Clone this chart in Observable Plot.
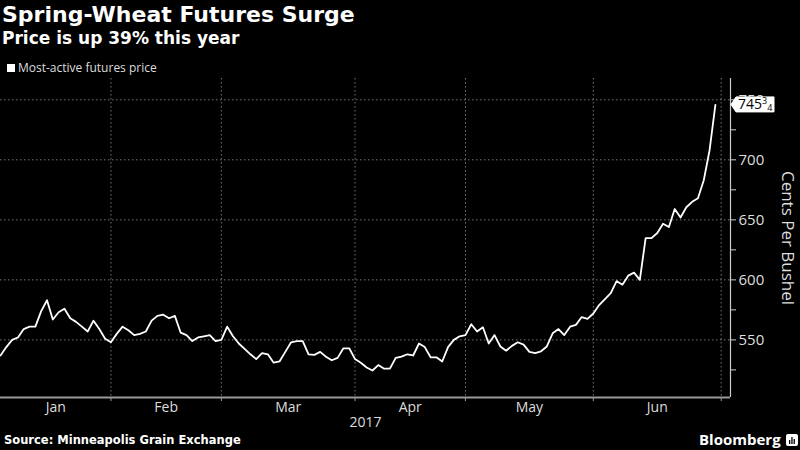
<!DOCTYPE html>
<html><head><meta charset="utf-8">
<script src="https://cdn.jsdelivr.net/npm/d3@7"></script>
<script src="https://cdn.jsdelivr.net/npm/@observablehq/plot@0.6"></script>
<style>
body{margin:0;background:#000;}
#wrap{position:relative;width:800px;height:450px;background:#000;overflow:hidden;color:#fff;font-family:"DejaVu Sans",sans-serif;}
#title{position:absolute;left:2px;top:2px;font-size:22px;line-height:26px;font-weight:bold;white-space:nowrap;}
#subtitle{position:absolute;left:2px;top:28px;font-size:17px;line-height:20px;font-weight:bold;white-space:nowrap;}
#legend{position:absolute;left:7px;top:60px;font-family:"Open Sans",sans-serif;font-size:12px;line-height:16px;color:#ddd;white-space:nowrap;z-index:2;}
#legend span.sw{display:inline-block;width:8px;height:8px;background:#fff;margin-right:3px;vertical-align:0px;}
#chart{position:absolute;left:0;top:70px;z-index:1;}
#source{position:absolute;left:4px;top:433px;font-size:11.5px;line-height:14px;font-weight:bold;white-space:nowrap;}
#brand{position:absolute;left:699px;top:429px;font-family:"Open Sans",sans-serif;font-size:15px;line-height:20px;font-weight:bold;white-space:nowrap;}
#icon{position:absolute;left:786px;top:434px;}
</style></head>
<body><div id="wrap">
<div id="title">Spring-Wheat Futures Surge</div>
<div id="subtitle">Price is up 39% this year</div>
<div id="legend"><span class="sw"></span>Most-active futures price</div>
<div id="chart"></div>
<div id="source">Source: Minneapolis Grain Exchange</div>
<div id="brand">Bloomberg</div>
<svg id="icon" width="12" height="12" viewBox="0 0 12 12"><rect width="12" height="12" rx="2" fill="#fff"/><rect x="3" y="6" width="1.3" height="4" fill="#000"/><rect x="5.3" y="3" width="1.3" height="7" fill="#000"/><rect x="7.6" y="5" width="1.3" height="5" fill="#000"/></svg>
</div>
<script>
// Month names and number of trading days shown for each month (Jan 4 – Jun 30, 2017)
const months = ["Jan", "Feb", "Mar", "Apr", "May", "Jun"];
const tradingDays = [19, 19, 23, 19, 22, 22];
const yearLabel = "2017";
const yTicks = [550, 600, 650, 700, 750];
const yMinorTicks = [525, 575, 625, 675, 725];
const yLabel = "Cents Per Bushel";
const lastTag = ["745", "3", "4"];
// Most-active spring-wheat futures price, cents per bushel, one value per trading day
const prices = [
  537, 544, 550, 552, 559, 561, 561, 574, 583, 567,
  573, 576, 568, 565, 561, 557, 566, 559, 551, 548,
  555, 561, 558, 554, 555, 557, 566, 570, 571, 568,
  570, 556, 554, 549, 552, 553, 554, 549, 550, 561,
  553, 547, 542.5, 538, 534, 539, 538, 531, 532, 540,
  548, 549, 549, 538, 537.5, 540, 536, 533, 535, 543,
  543, 534, 531, 527, 524.5, 529, 526, 526, 535, 536,
  538, 537, 547, 544, 535.5, 535.5, 532, 544, 550, 553,
  554, 563, 557, 560.5, 547, 554, 544.5, 541, 545, 548,
  546, 540, 539, 540.5, 544.5, 555.5, 559, 554, 561, 562.5,
  569, 567.5, 572, 579, 584, 589, 599, 596, 603.5, 606,
  600, 634.75, 634.75, 639, 646.75, 644, 659, 652, 660.5, 665,
  668, 683, 708, 745.75
];

const starts = [0];
tradingDays.forEach(d => starts.push(starts[starts.length - 1] + d));
const boundaries = starts.slice(1);
const mids = months.map((m, i) => (starts[i] + starts[i + 1]) / 2);
const xMax = 125.6;
const yMin = 502, yMax = 767.75;
const data = prices.map((p, i) => ({i, p}));

const chart = Plot.plot({
  width: 800, height: 360,
  marginLeft: 0, marginRight: 70, marginTop: 8, marginBottom: 33,
  style: {background: "transparent", color: "#ddd", fontFamily: "'Open Sans', sans-serif", fontSize: "14px", overflow: "visible"},
  x: {type: "linear", domain: [0, xMax]},
  y: {domain: [yMin, yMax]},
  marks: [
    Plot.ruleY(yTicks, {stroke: "#777", strokeDasharray: "1.5,2.5"}),
    Plot.ruleX(boundaries, {stroke: "#777", strokeDasharray: "1.5,2.5"}),
    Plot.axisX({ticks: boundaries, tickFormat: () => "", tickSize: 4, stroke: "#999", label: null}),
    Plot.axisX({ticks: mids, tickFormat: d => months[mids.indexOf(d)], tickSize: 0, tickPadding: 5, label: null, fill: "#ddd", fontSize: 14}),
    Plot.ruleY([yMin], {stroke: "#999", strokeWidth: 2}),
    Plot.ruleX([xMax], {stroke: "#ccc", strokeWidth: 1.2}),
    Plot.axisY({anchor: "right", ticks: yMinorTicks, tickFormat: () => "", tickSize: 5, stroke: "#ccc", label: null}),
    Plot.axisY({anchor: "right", ticks: yTicks, tickSize: 5, tickPadding: 3, stroke: "#ccc", fill: "#ddd", label: null, fontSize: 15}),
    Plot.lineY(data, {x: "i", y: "p", stroke: "#fff", strokeWidth: 1.8}),
    Plot.text([yearLabel], {text: d => d, frameAnchor: "bottom", lineAnchor: "middle", dy: 25, fill: "#ddd", fontSize: 14}),
    Plot.text([yLabel], {text: d => d, frameAnchor: "right", textAnchor: "middle", lineAnchor: "middle", dx: 57, rotate: 90, fill: "#ddd", fontSize: 17})
  ]
});
document.getElementById("chart").append(chart);

// value tag on the right axis, positioned with the plot's own scales
const sx = chart.scale("x"), sy = chart.scale("y");
const yv = sy.apply(prices[prices.length - 1]);
const xa = sx.apply(xMax);
const g = d3.select(chart).append("g").attr("text-anchor", "start");
g.append("path")
  .attr("d", `M${xa + 1},${yv} L${xa + 6},${yv - 7.5} H${xa + 44} V${yv + 7.5} H${xa + 6} Z`)
  .attr("fill", "#fff").attr("stroke", "#fff").attr("stroke-linejoin", "round");
const t = g.append("text").attr("x", xa + 8).attr("y", yv + 5)
  .attr("fill", "#000").attr("font-family", "'Open Sans', sans-serif").attr("font-size", 14);
t.append("tspan").text(lastTag[0]);
t.append("tspan").attr("font-size", 9).attr("dy", -5).text(lastTag[1]);
t.append("tspan").attr("font-size", 9).attr("dy", 7).text(lastTag[2]);
</script>
</body></html>
